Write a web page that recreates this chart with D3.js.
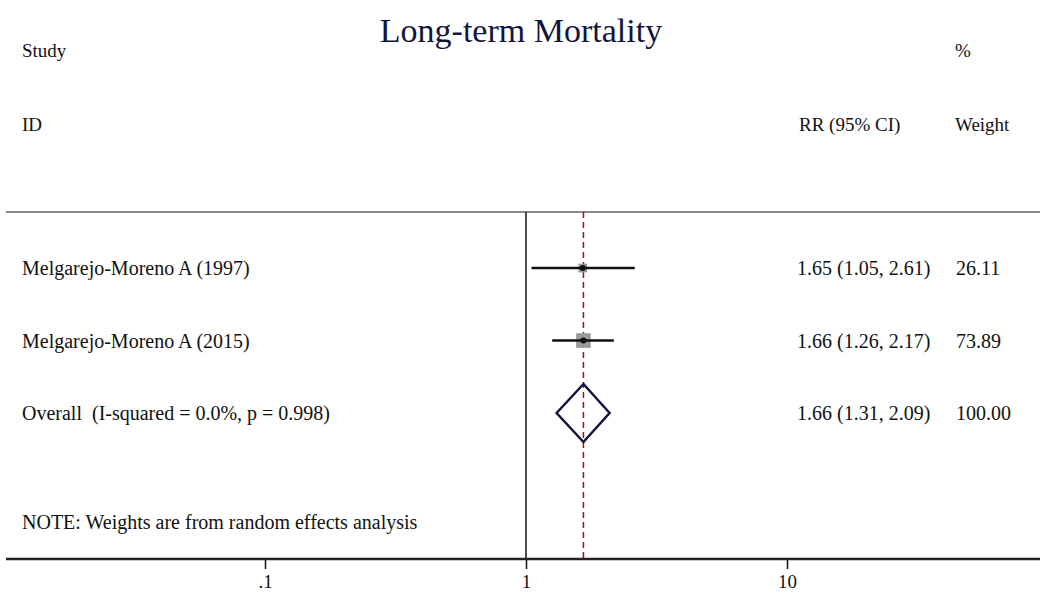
<!DOCTYPE html>
<html>
<head>
<meta charset="utf-8">
<script src="https://cdn.jsdelivr.net/npm/d3@7"></script>
<style>
  body { margin: 0; background: #fff; }
  text { font-family: "Liberation Serif", "Times New Roman", serif; fill: #111; white-space: pre; }
</style>
</head>
<body>
<script>
// forest plot data
const studies = ['Melgarejo-Moreno A (1997)', 'Melgarejo-Moreno A (2015)'];
const rr = [1.65, 1.66];
const lower = [1.05, 1.26];
const upper = [2.61, 2.17];
const weights = [26.11, 73.89];
const overall = { label: 'Overall  (I-squared = 0.0%, p = 0.998)', rr: 1.66, lo: 1.31, hi: 2.09, weight: 100.00 };
const tickValues = [0.1, 1, 10];
const tickLabels = ['.1', '1', '10'];

const width = 1040, height = 595;
const ruleY = 212, axisY = 559;
const fs = '20px';

const svg = d3.select('body').append('svg')
  .attr('width', width)
  .attr('height', height);

// log scale, 1 sits at x=526, one decade = 261px
const x = d3.scaleLog().domain([0.1, 10]).range([265, 787]);

const rowLabels = studies.concat([overall.label]);
const y = d3.scalePoint().domain(rowLabels).range([268, 413]);

// title and headers
svg.append('text')
  .attr('x', 521).attr('y', 42)
  .attr('text-anchor', 'middle')
  .style('font-size', '34px')
  .style('fill', '#14143a')
  .text('Long-term Mortality');

const headers = [
  ['Study', 22, 57], ['ID', 22, 131],
  ['%', 955, 57], ['RR (95% CI)', 799, 131], ['Weight', 955, 131]
];
svg.selectAll('text.hdr')
  .data(headers)
  .enter()
  .append('text')
  .attr('class', 'hdr')
  .attr('x', (d) => d[1])
  .attr('y', (d) => d[2])
  .style('font-size', '19px')
  .text((d) => d[0]);

// top rule
svg.append('line')
  .attr('x1', 6).attr('x2', width)
  .attr('y1', ruleY).attr('y2', ruleY)
  .attr('stroke', '#8a8a8a')
  .attr('stroke-width', 2);

// null line at 1
svg.append('line')
  .attr('x1', x(1)).attr('x2', x(1))
  .attr('y1', ruleY).attr('y2', axisY)
  .attr('stroke', '#111')
  .attr('stroke-width', 1.5);

// overall estimate dashed line
svg.append('line')
  .attr('x1', x(overall.rr)).attr('x2', x(overall.rr))
  .attr('y1', ruleY).attr('y2', axisY)
  .attr('stroke', '#8b1a1a')
  .attr('stroke-width', 1.5)
  .attr('stroke-dasharray', '6,4');

// x axis
const axis = d3.axisBottom(x)
  .tickValues(tickValues)
  .tickFormat((d, i) => tickLabels[i])
  .tickSize(10)
  .tickPadding(6);

const gAxis = svg.append('g')
  .attr('transform', `translate(0, ${axisY})`)
  .call(axis);

gAxis.select('.domain').remove();
gAxis.selectAll('.tick line').attr('stroke', '#111').attr('stroke-width', 1.5);
gAxis.selectAll('.tick text')
  .style('font-family', '"Liberation Serif", serif')
  .style('font-size', '19px')
  .attr('fill', '#111');

svg.append('line')
  .attr('x1', 6).attr('x2', width)
  .attr('y1', axisY).attr('y2', axisY)
  .attr('stroke', '#222')
  .attr('stroke-width', 2.5);

// study rows
const rows = studies.map((s, i) => ({ s, rr: rr[i], lo: lower[i], hi: upper[i], w: weights[i] }));
const boxSize = d3.scaleSqrt().domain([0, 100]).range([0, 17]);

const g = svg.selectAll('g.row')
  .data(rows)
  .enter()
  .append('g')
  .attr('class', 'row');

g.append('rect')
  .attr('x', (d) => x(d.rr) - boxSize(d.w) / 2)
  .attr('y', (d) => y(d.s) - boxSize(d.w) / 2)
  .attr('width', (d) => boxSize(d.w))
  .attr('height', (d) => boxSize(d.w))
  .attr('fill', '#9a9a9a');

g.append('line')
  .attr('x1', (d) => x(d.lo)).attr('x2', (d) => x(d.hi))
  .attr('y1', (d) => y(d.s)).attr('y2', (d) => y(d.s))
  .attr('stroke', '#111')
  .attr('stroke-width', 2.5);

g.append('circle')
  .attr('cx', (d) => x(d.rr))
  .attr('cy', (d) => y(d.s))
  .attr('r', 3)
  .attr('fill', '#111');

g.append('text')
  .attr('x', 22).attr('y', (d) => y(d.s) + 7)
  .style('font-size', fs)
  .text((d) => d.s);

g.append('text')
  .attr('x', 797).attr('y', (d) => y(d.s) + 7)
  .style('font-size', fs)
  .text((d) => `${d.rr.toFixed(2)} (${d.lo.toFixed(2)}, ${d.hi.toFixed(2)})`);

g.append('text')
  .attr('x', 956).attr('y', (d) => y(d.s) + 7)
  .style('font-size', fs)
  .text((d) => d.w.toFixed(2));

// overall diamond
const oy = y(overall.label);
svg.append('path')
  .attr('d', d3.line()([
    [x(overall.lo), oy], [x(overall.rr), oy - 29],
    [x(overall.hi), oy], [x(overall.rr), oy + 29]
  ]) + 'Z')
  .attr('fill', 'none')
  .attr('stroke', '#14143f')
  .attr('stroke-width', 2.5);

svg.append('text')
  .attr('x', 22).attr('y', oy + 7)
  .style('font-size', fs)
  .text(overall.label);

svg.append('text')
  .attr('x', 797).attr('y', oy + 7)
  .style('font-size', fs)
  .text(`${overall.rr.toFixed(2)} (${overall.lo.toFixed(2)}, ${overall.hi.toFixed(2)})`);

svg.append('text')
  .attr('x', 956).attr('y', oy + 7)
  .style('font-size', fs)
  .text(overall.weight.toFixed(2));

svg.append('text')
  .attr('x', 22).attr('y', 529)
  .style('font-size', fs)
  .text('NOTE: Weights are from random effects analysis');
</script>
</body>
</html>
